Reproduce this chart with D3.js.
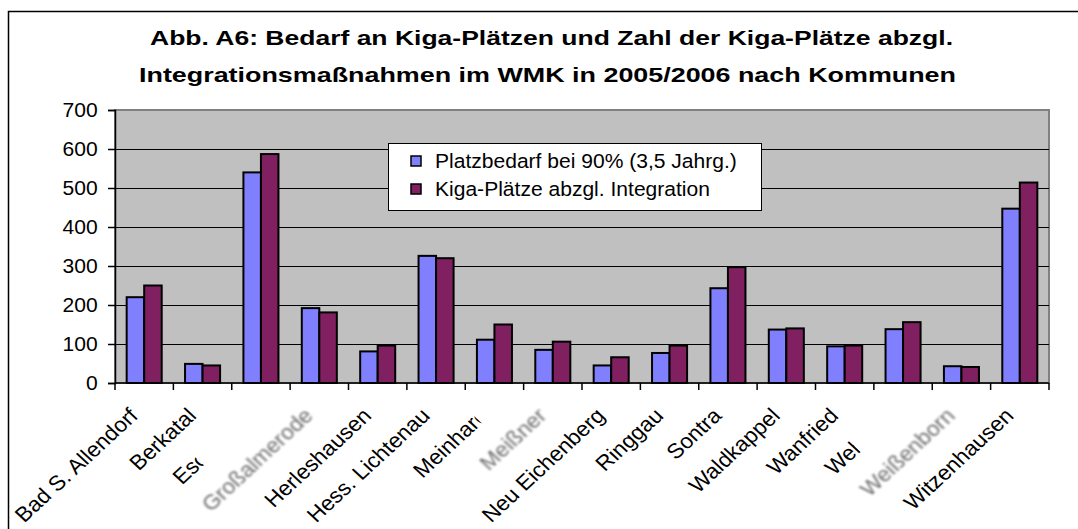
<!DOCTYPE html>
<html>
<head>
<meta charset="utf-8">
<script src="https://cdn.jsdelivr.net/npm/d3@7"></script>
<style>
  body { margin: 0; background: #fff; }
  svg { display: block; font-family: Arial, "Liberation Sans", sans-serif; }
</style>
</head>
<body>
<div id="chart"></div>
<script>
(function() {
    // Kommunen im Werra-Meißner-Kreis
    var kommunen = ["Bad S. Allendorf", "Berkatal", "Eschwege", "Großalmerode", "Herleshausen",
        "Hess. Lichtenau", "Meinhard", "Meißner", "Neu Eichenberg", "Ringgau", "Sontra",
        "Waldkappel", "Wanfried", "Wehretal", "Weißenborn", "Witzenhausen"];

    // Platzbedarf bei 90% (3,5 Jahrg.)
    var bedarf = [220, 49, 540, 192, 81, 326, 111, 85, 45, 77, 243, 137, 94, 138, 43, 447];
    // Kiga-Plätze abzgl. Integration
    var plaetze = [250, 45, 587, 181, 96, 320, 150, 106, 66, 96, 297, 140, 96, 156, 41, 514];

    var seriesNames = ["Platzbedarf bei 90% (3,5 Jahrg.)", "Kiga-Plätze abzgl. Integration"];
    var yTicks = [0, 100, 200, 300, 400, 500, 600, 700];
    var titleLines = ["Abb. A6: Bedarf an Kiga-Plätzen und Zahl der Kiga-Plätze abzgl.",
        "Integrationsmaßnahmen im WMK in 2005/2006 nach Kommunen"];

    // labels that show up blurred / cut off in the original
    var blurred = ["Großalmerode", "Meißner", "Weißenborn"];
    var cutAt = {"Eschwege": 2.4, "Meinhard": 7.2, "Wehretal": 2.3};

    var colors = ["#8080ff", "#802060"];

    var W = 1078, H = 529;
    var plot = {left: 115, right: 1049, top: 110, bottom: 383};
    var stretch = "scale(1.08,1)";   // the original picture is a bit wider than tall

    var svg = d3.select("#chart").append("svg")
        .attr("width", W)
        .attr("height", H);

    var defs = svg.append("defs");
    defs.append("filter").attr("id", "blur")
        .append("feGaussianBlur").attr("stdDeviation", 0.9);

    svg.append("rect").attr("width", W).attr("height", H).attr("fill", "#fff");

    // chart border (runs off the right and bottom edge)
    svg.append("path")
        .attr("d", "M8.5," + H + "V11.5H" + W)
        .attr("fill", "none")
        .attr("stroke", "#000")
        .attr("stroke-width", 1.5);

    // title (the original's bold face runs much wider than Arial Bold)
    var titleWidths = [803, 817];
    svg.append("g").selectAll("text")
        .data(titleLines)
        .enter().append("text")
        .attr("x", function(d, i) { return i ? 547.5 : 551.5; })
        .attr("y", function(d, i) { return 45 + i * 37; })
        .attr("text-anchor", "middle")
        .attr("font-size", 21)
        .attr("font-weight", "bold")
        .attr("textLength", function(d, i) { return titleWidths[i]; })
        .attr("lengthAdjust", "spacingAndGlyphs")
        .attr("fill", "#000")
        .text(function(d) { return d; });

    var x0 = d3.scaleBand()
        .domain(kommunen)
        .range([plot.left, plot.right])
        .paddingInner(0.4)
        .paddingOuter(0.2);

    var x1 = d3.scaleBand()
        .domain([0, 1])
        .range([0, x0.bandwidth()]);

    var y = d3.scaleLinear()
        .domain([0, 700])
        .range([plot.bottom, plot.top]);

    // plot area
    svg.append("rect")
        .attr("x", plot.left)
        .attr("y", plot.top)
        .attr("width", plot.right - plot.left)
        .attr("height", plot.bottom - plot.top)
        .attr("fill", "#c0c0c0")
        .attr("stroke", "#808080")
        .attr("stroke-width", 2);

    // gridlines
    svg.append("g").selectAll("line")
        .data(yTicks.slice(1, -1))
        .enter().append("line")
        .attr("x1", plot.left)
        .attr("x2", plot.right)
        .attr("y1", function(d) { return Math.round(y(d)) + 0.5; })
        .attr("y2", function(d) { return Math.round(y(d)) + 0.5; })
        .attr("stroke", "#000")
        .attr("stroke-width", 1);

    // bars
    var data = kommunen.map(function(k, i) { return {name: k, values: [bedarf[i], plaetze[i]]}; });

    var groups = svg.append("g").selectAll("g")
        .data(data)
        .enter().append("g")
        .attr("transform", function(d) { return "translate(" + x0(d.name) + ",0)"; });

    groups.selectAll("rect")
        .data(function(d) { return d.values; })
        .enter().append("rect")
        .attr("x", function(d, i) { return x1(i); })
        .attr("y", function(d) { return y(d); })
        .attr("width", x1.bandwidth())
        .attr("height", function(d) { return y(0) - y(d); })
        .attr("fill", function(d, i) { return colors[i]; })
        .attr("stroke", "#000")
        .attr("stroke-width", 2);

    // y axis
    var yAxis = svg.append("g")
        .attr("transform", "translate(" + plot.left + ",0)")
        .call(d3.axisLeft(y).tickValues(yTicks).tickSize(7).tickPadding(9));
    yAxis.select(".domain").attr("stroke", "#000").attr("stroke-width", 1.5);
    yAxis.selectAll(".tick line").attr("stroke", "#000").attr("stroke-width", 1.5);
    yAxis.selectAll("text")
        .attr("font-size", 19.5)
        .attr("font-family", "Arial, Liberation Sans, sans-serif")
        .attr("fill", "#000")
        .attr("transform", stretch);

    // x axis: ticks on the category boundaries
    var boundaries = kommunen.map(function(k) { return x0(k) - x0.step() * x0.paddingInner() / 2; })
        .concat([plot.right]);
    boundaries[0] = plot.left;

    svg.append("line")
        .attr("x1", plot.left).attr("x2", plot.right)
        .attr("y1", plot.bottom).attr("y2", plot.bottom)
        .attr("stroke", "#000").attr("stroke-width", 1.5);

    svg.append("g").selectAll("line")
        .data(boundaries)
        .enter().append("line")
        .attr("x1", function(d) { return d; })
        .attr("x2", function(d) { return d; })
        .attr("y1", plot.bottom)
        .attr("y2", plot.bottom + 7)
        .attr("stroke", "#000")
        .attr("stroke-width", 1.5);

    // rotated category labels
    var labels = svg.append("g").selectAll("g")
        .data(kommunen)
        .enter().append("g")
        .attr("transform", function(d) {
            return "translate(" + (x0(d) + x0.bandwidth() / 2 - 5) + "," + 417 + ") " + stretch + " rotate(-45)";
        });

    labels.append("text")
        .attr("text-anchor", "end")
        .attr("font-size", 21)
        .attr("fill", function(d) { return blurred.indexOf(d) >= 0 ? "#6e6e6e" : "#000"; })
        .attr("filter", function(d) { return blurred.indexOf(d) >= 0 ? "url(#blur)" : null; })
        .text(function(d) { return d; })
        .each(function(d, i) {
            if (cutAt[d] === undefined) return;
            var full = this.getComputedTextLength();
            var n = Math.floor(cutAt[d]);
            var shown = this.getSubStringLength(0, n) +
                (cutAt[d] - n) * this.getSubStringLength(n, 1);
            defs.append("clipPath").attr("id", "cut" + i)
                .append("rect")
                .attr("x", -full - 2)
                .attr("y", -30)
                .attr("width", shown + 2)
                .attr("height", 40);
            d3.select(this).attr("clip-path", "url(#cut" + i + ")");
        });

    // legend
    var legend = svg.append("g").attr("transform", "translate(388,143)");
    legend.append("rect")
        .attr("x", 0.5).attr("y", 0.5)
        .attr("width", 373).attr("height", 67)
        .attr("fill", "#fff")
        .attr("stroke", "#000")
        .attr("stroke-width", 1);

    var items = legend.selectAll(".item")
        .data(seriesNames)
        .enter().append("g")
        .attr("class", "item")
        .attr("transform", function(d, i) { return "translate(0," + (18 + i * 28) + ")"; });

    items.append("rect")
        .attr("x", 23).attr("y", -5)
        .attr("width", 10).attr("height", 10)
        .attr("fill", function(d, i) { return colors[i]; })
        .attr("stroke", "#000")
        .attr("stroke-width", 1.5);

    items.append("text")
        .attr("transform", "translate(47,7) " + stretch)
        .attr("font-size", 19.5)
        .attr("fill", "#000")
        .text(function(d) { return d; });
})();
</script>
</body>
</html>
